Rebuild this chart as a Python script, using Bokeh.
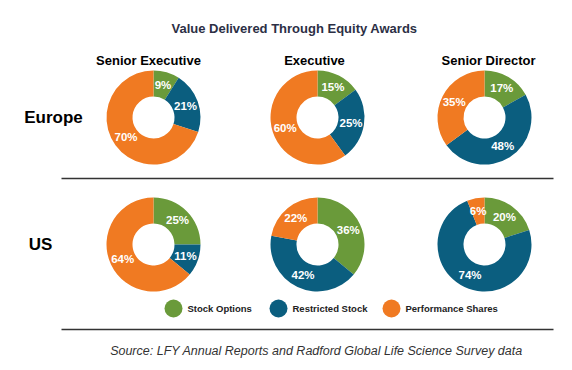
import math
from bokeh.plotting import figure
from bokeh.models import Range1d, ColumnDataSource
from bokeh.core.properties import value
from bokeh.embed import file_html
from bokeh.resources import INLINE

# ---- data ----
title = "Value Delivered Through Equity Awards"
levels = ["Senior Executive", "Executive", "Senior Director"]
regions = ["Europe", "US"]
series = ["Stock Options", "Restricted Stock", "Performance Shares"]
colors = ["#6a9a3a", "#0b5e7f", "#f07a22"]
europe_values = [[9, 21, 70], [15, 25, 60], [17, 48, 35]]
us_values = [[25, 11, 64], [36, 42, 22], [20, 74, 6]]
source_text = "Source: LFY Annual Reports and Radford Global Life Science Survey data"

# ---- layout (page pixels) ----
PW, PH = 564, 362
FONT = "Liberation Sans"
col_x = [153, 317, 484]
row_y = [117, 244]
R_OUT, R_IN, R_LAB = 47, 21, 34


def Y(py):
    return PH - py


p = figure(width=PW, height=PH, output_backend="svg", toolbar_location=None,
           x_range=Range1d(0, PW), y_range=Range1d(0, PH),
           x_axis_location=None, y_axis_location=None, min_border=0)
p.outline_line_color = None
p.grid.visible = False
p.background_fill_color = "white"

wx, wy, ws, we, wc = [], [], [], [], []
lx, ly, lt = [], [], []
for ri, vals_row in enumerate([europe_values, us_values]):
    for ci, vals in enumerate(vals_row):
        total = sum(vals)
        cum = 0.0
        for si, v in enumerate(vals):
            a0 = math.pi / 2 - 2 * math.pi * cum / total
            cum += v
            a1 = math.pi / 2 - 2 * math.pi * cum / total
            wx.append(col_x[ci]); wy.append(Y(row_y[ri]))
            ws.append(a1); we.append(a0); wc.append(colors[si])
            mid = (a0 + a1) / 2
            lx.append(col_x[ci] + R_LAB * math.cos(mid))
            ly.append(Y(row_y[ri]) + R_LAB * math.sin(mid))
            lt.append(f"{v}%")

p.annular_wedge(x="x", y="y", inner_radius=R_IN, outer_radius=R_OUT,
                start_angle="s", end_angle="e", color="c", line_color=None,
                source=ColumnDataSource(dict(x=wx, y=wy, s=ws, e=we, c=wc)))
p.text(x=lx, y=ly, text=lt, text_color="white", text_font=value(FONT),
       text_font_style="bold", text_font_size="11.5px", text_align="center",
       text_baseline="middle")

# title
p.text(x=[294], y=[Y(28)], text=[title], text_color="#2c2f45", text_font=value(FONT),
       text_font_style="bold", text_font_size="13px", text_align="center",
       text_baseline="middle")
# column headers
p.text(x=[148, 314, 488], y=[Y(60)] * 3, text=levels, text_color="black",
       text_font=value(FONT), text_font_style="bold", text_font_size="13px",
       text_align="center", text_baseline="middle")
# row labels
p.text(x=[53, 40], y=[Y(117), Y(244)], text=regions, text_color="black",
       text_font=value(FONT), text_font_style="bold", text_font_size="17px",
       text_align="center", text_baseline="middle")
# separators
p.segment(x0=[61, 61], y0=[Y(178), Y(329)], x1=[553, 553], y1=[Y(178), Y(329)],
          line_color="#333333", line_width=1.5)
# legend
leg_x = [173, 278, 391]
p.scatter(x=leg_x, y=[Y(308)] * 3, size=18, color=colors, line_color=None)
p.text(x=[x + 14 for x in leg_x], y=[Y(308)] * 3, text=series, text_color="#222222",
       text_font=value(FONT), text_font_style="bold", text_font_size="9.5px",
       text_align="left", text_baseline="middle")
# source
p.text(x=[316], y=[Y(350)], text=[source_text], text_color="#333333",
       text_font=value(FONT), text_font_style="italic", text_font_size="12.5px",
       text_align="center", text_baseline="middle")

open("out.html", "w").write(file_html(p, INLINE))
